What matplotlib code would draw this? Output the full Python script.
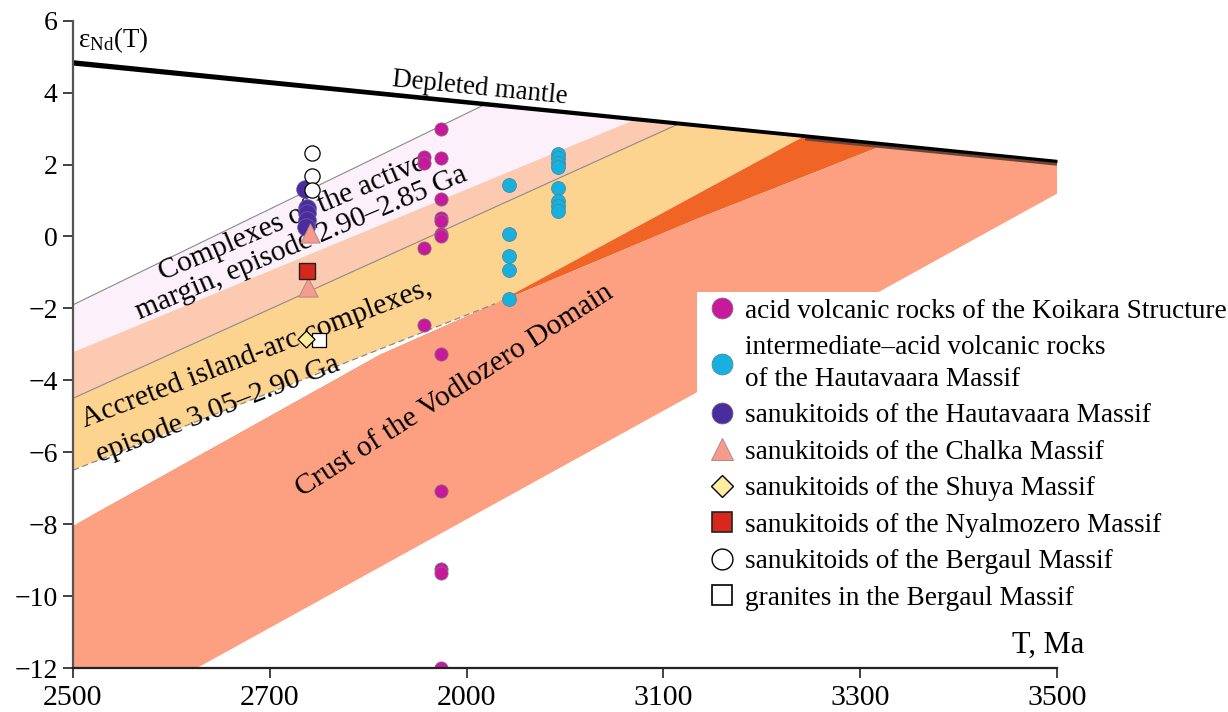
import numpy as np
import matplotlib
matplotlib.use("Agg")
import matplotlib.pyplot as plt
from matplotlib.lines import Line2D
from matplotlib.patches import Polygon

plt.rcParams['font.family'] = ['Liberation Serif', 'DejaVu Serif']
plt.rcParams['mathtext.fontset'] = 'custom'
plt.rcParams['mathtext.rm'] = 'Liberation Serif'
plt.rcParams['mathtext.it'] = 'Liberation Serif:italic'

# ---------------- data ----------------
# depleted mantle evolution
dm_age = [2500, 3500]
dm_eps = [4.84, 2.10]

# crustal envelopes: eps at 2500 Ma and the age where the envelope meets the DM line
margin_top = (-1.90, 2920)
margin_bot = (-3.22, 3073)
arc_top = (-4.50, 3117)
arc_bot_age = [2500, 2929]
arc_bot_eps = [-6.50, -1.87]
wedge_join = 3244
crust_top_age = [2500, 2812, 2929, 3137, 3327]
crust_top_eps = [-8.05, -3.29, -1.87, 0.52, 2.57]
crust_bot_age = [2500, 2626, 3500]
crust_bot_eps = [-12.0, -12.0, 1.19]

# samples
koikara_age = [2874] * 12 + [2857] * 4
koikara_eps = [2.99, 2.17, 1.05, 0.51, 0.44, 0.06, 0.0, -3.26, -7.09, -9.26, -9.35, -12.0,
               2.22, 2.04, -0.32, -2.45]
hautav_volc_age = [2943] * 5 + [2993] * 8
hautav_volc_eps = [1.42, 0.07, -0.54, -0.93, -1.74,
                   2.30, 2.18, 2.05, 1.93, 1.35, 1.00, 0.85, 0.72]
hautav_sanuk_age = [2736, 2738, 2738, 2738, 2737]
hautav_sanuk_eps = [1.33, 0.80, 0.65, 0.45, 0.25]
chalka_age = [2741, 2739]
chalka_eps = [0.10, -1.40]
shuya_age = [2737]
shuya_eps = [-2.85]
nyalm_age = [2738]
nyalm_eps = [-0.95]
bergaul_age = [2743, 2743, 2743]
bergaul_eps = [2.33, 1.68, 1.30]
bergaul_gr_age = [2750]
bergaul_gr_eps = [-2.87]

x_ticks = [2500, 2700, 2900, 3100, 3300, 3500]
x_ticklabels = ["2500", "2700", "2000", "3100", "3300", "3500"]
y_ticks = list(range(-12, 7, 2))

legend_labels = [
    "acid volcanic rocks of the Koikara Structure",
    "intermediate\u2013acid volcanic rocks\nof the Hautavaara Massif",
    "sanukitoids of the Hautavaara Massif",
    "sanukitoids of the Chalka Massif",
    "sanukitoids of the Shuya Massif",
    "sanukitoids of the Nyalmozero Massif",
    "sanukitoids of the Bergaul Massif",
    "granites in the Bergaul Massif",
]

# ---------------- drawing ----------------
def dm(t):
    return np.interp(t, dm_age, dm_eps)

def dm_path(t0, t1, n=20):
    t = np.linspace(t0, t1, n)
    return list(zip(t, dm(t)))

fig = plt.figure(figsize=(12.28, 7.12), dpi=100)
ax = fig.add_axes([73 / 1228, 1 - 668 / 712, (1057 - 73) / 1228, (668 - 20.7) / 712])
ax.set_xlim(2500, 3500)
ax.set_ylim(-12, 6)

c_lav = "#fcf1fa"
c_lsal = "#fccab0"
c_yel = "#fdd390"
c_dor = "#f06526"
c_sal = "#fca081"

# active margin band
poly = [(2500, margin_top[0])] + dm_path(margin_top[1], margin_bot[1]) + [(2500, margin_bot[0])]
ax.add_patch(Polygon(poly, closed=True, facecolor=c_lav, edgecolor="none", zorder=1))
# transitional band
poly = [(2500, margin_bot[0])] + dm_path(margin_bot[1], arc_top[1]) + [(2500, arc_top[0])]
ax.add_patch(Polygon(poly, closed=True, facecolor=c_lsal, edgecolor="none", zorder=1))
# island-arc band
poly = ([(2500, arc_top[0])] + dm_path(arc_top[1], wedge_join)
        + [(arc_bot_age[1], arc_bot_eps[1]), (arc_bot_age[0], arc_bot_eps[0])])
ax.add_patch(Polygon(poly, closed=True, facecolor=c_yel, edgecolor="none", zorder=1))
# dark orange wedge
poly = ([(arc_bot_age[1], arc_bot_eps[1])] + dm_path(wedge_join, crust_top_age[-1])
        + list(zip(crust_top_age[::-1], crust_top_eps[::-1]))[1:])
ax.add_patch(Polygon(poly, closed=True, facecolor=c_dor, edgecolor="none", zorder=1))
# Vodlozero crust
poly = (list(zip(crust_top_age, crust_top_eps)) + dm_path(crust_top_age[-1], 3500)
        + list(zip(crust_bot_age[::-1], crust_bot_eps[::-1])))
ax.add_patch(Polygon(poly, closed=True, facecolor=c_sal, edgecolor="none", zorder=1))

# envelope outlines
ax.plot([2500, margin_top[1]], [margin_top[0], dm(margin_top[1])], color="#8a8a8a", lw=0.8, zorder=2)
ax.plot([2500, arc_top[1]], [arc_top[0], dm(arc_top[1])], color="#8a8a8a", lw=0.8, zorder=2)
ax.plot(arc_bot_age, arc_bot_eps, color="#8a8a8a", lw=0.9, ls=(0, (5, 3)), zorder=2)

# depleted mantle (slightly tapering stroke)
t = np.array([wedge_join, 3500])
ax.plot(t, dm(t) - 0.09, color="#6e4436", lw=2.2, zorder=2, solid_capstyle="butt")
tt = np.linspace(dm_age[0], dm_age[1], 50)
half = np.interp(tt, dm_age, [0.075, 0.045])
ax.fill_between(tt, dm(tt) - half, dm(tt) + half, color="black", lw=0, zorder=3)

# labels in the plot
fs = 19.4
fs_band = 21.3
ax.text(2913, 4.13, "Depleted mantle", rotation=-5.7, rotation_mode="anchor",
        ha="center", va="center", fontsize=fs, zorder=4)
ax.text(2591, -1.21, "Complexes of the active", rotation=23, rotation_mode="anchor",
        ha="left", va="baseline", fontsize=fs_band, zorder=4)
ax.text(2568, -2.32, "margin, episode 2.90\u20132.85 Ga", rotation=23, rotation_mode="anchor",
        ha="left", va="baseline", fontsize=fs_band, zorder=4)
ax.text(2512, -5.31, "Accreted island-arc complexes,", rotation=21, rotation_mode="anchor",
        ha="left", va="baseline", fontsize=fs_band, zorder=4)
ax.text(2527, -6.28, "episode 3.05\u20132.90 Ga", rotation=21, rotation_mode="anchor",
        ha="left", va="baseline", fontsize=fs_band, zorder=4)
ax.text(2888, -4.29, "Crust of the Vodlozero Domain", rotation=32.7, rotation_mode="anchor",
        ha="center", va="center", fontsize=fs_band, zorder=4)

# samples
ax.scatter(koikara_age, koikara_eps, s=90, marker="o", facecolor="#c8189b",
           edgecolor="#8a6a80", linewidth=0.6, zorder=5)
ax.scatter(hautav_volc_age, hautav_volc_eps, s=100, marker="o", facecolor="#18b0de",
           edgecolor="#4a8aa0", linewidth=0.6, zorder=5)
ax.scatter(hautav_sanuk_age, hautav_sanuk_eps, s=160, marker="o", facecolor="#4a2c9c",
           edgecolor="#6a5aa8", linewidth=0.6, zorder=5)
ax.scatter(chalka_age, chalka_eps, s=190, marker="^", facecolor="#f59a8c",
           edgecolor="#b08a88", linewidth=0.7, zorder=6)
ax.scatter(bergaul_gr_age, bergaul_gr_eps, s=100, marker="s", facecolor="white",
           edgecolor="black", linewidth=0.9, zorder=5)
ax.scatter(shuya_age, shuya_eps, s=75, marker="D", facecolor="#fbec9e",
           edgecolor="black", linewidth=0.9, zorder=6)
ax.scatter(nyalm_age, nyalm_eps, s=120, marker="s", facecolor="#d8281c",
           edgecolor="#222222", linewidth=1.0, zorder=6)
ax.scatter(bergaul_age, bergaul_eps, s=120, marker="o", facecolor="white",
           edgecolor="black", linewidth=0.9, zorder=5)

# axes styling
for side in ("top", "right"):
    ax.spines[side].set_visible(False)
ax.spines["left"].set_color("#555555")
ax.spines["left"].set_linewidth(1.6)
ax.spines["bottom"].set_color("#222222")
ax.spines["bottom"].set_linewidth(1.6)
ax.spines["left"].set_zorder(7)
ax.spines["bottom"].set_zorder(7)
ax.set_xticks(x_ticks)
ax.set_xticklabels(x_ticklabels)
ax.set_yticks(y_ticks)
ax.set_yticklabels([f"{v}".replace("-", "\u2212") for v in y_ticks])
ax.tick_params(axis="both", direction="out", length=7, width=1.3, color="#333333")
ax.tick_params(axis="x", pad=5, labelsize=21.5)
ax.tick_params(axis="y", pad=4, labelsize=20)

ax.text(2505, 5.45, r"$\mathrm{\varepsilon_{Nd}(T)}$", ha="left", va="center", fontsize=fs, zorder=8)
ax.text(3528, -11.38, "T, Ma", ha="right", va="center", fontsize=22, clip_on=False)

# legend
handles = [
    Line2D([], [], ls="none", marker="o", ms=15, mfc="#c8189b", mec="#8a6a80", mew=0.6),
    Line2D([], [], ls="none", marker="o", ms=15, mfc="#18b0de", mec="#4a8aa0", mew=0.6),
    Line2D([], [], ls="none", marker="o", ms=15, mfc="#4a2c9c", mec="#6a5aa8", mew=0.6),
    Line2D([], [], ls="none", marker="^", ms=15.5, mfc="#f59a8c", mec="#b08a88", mew=0.7),
    Line2D([], [], ls="none", marker="D", ms=11, mfc="#fbec9e", mec="black", mew=1.0),
    Line2D([], [], ls="none", marker="s", ms=14.5, mfc="#d8281c", mec="#222222", mew=1.2),
    Line2D([], [], ls="none", marker="o", ms=15, mfc="white", mec="black", mew=1.0),
    Line2D([], [], ls="none", marker="s", ms=14.5, mfc="white", mec="black", mew=1.2),
]
leg = fig.legend(handles, legend_labels, loc="upper left",
                 bbox_to_anchor=(697 / 1228, 1 - 292 / 712), bbox_transform=fig.transFigure,
                 fontsize=19.6, frameon=True, facecolor="white", edgecolor="none", framealpha=1,
                 fancybox=False, borderpad=0.25, borderaxespad=0, handlelength=1.33,
                 handletextpad=0.18, labelspacing=0.42)
leg.get_texts()[1].set_linespacing(1.35)
leg.set_zorder(10)

fig.savefig("out.png", dpi=100, facecolor="white")
